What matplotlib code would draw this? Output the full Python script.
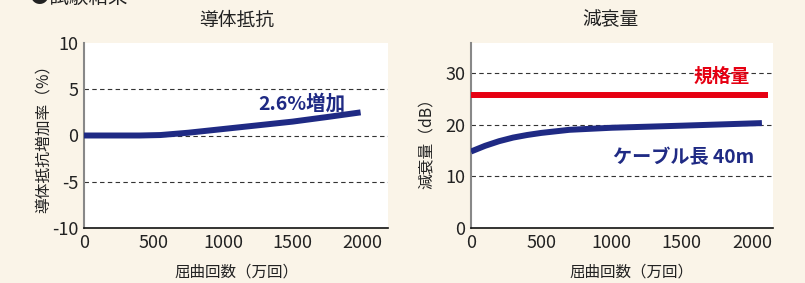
import numpy as np
import matplotlib.pyplot as plt

plt.rcParams['font.family'] = ['Noto Sans CJK JP', 'DejaVu Sans']
plt.rcParams['axes.unicode_minus'] = False

# 導体抵抗
res_x = [0, 200, 400, 550, 750, 1000, 1250, 1500, 1750, 1990]
res_y = [0, 0, 0, 0.05, 0.3, 0.7, 1.1, 1.5, 2.0, 2.5]
res_yticks = [-10, -5, 0, 5, 10]

# 減衰量
att_x = [0, 100, 200, 300, 400, 500, 700, 1000, 1500, 2070]
att_y = [14.8, 15.9, 16.8, 17.5, 18.0, 18.4, 19.0, 19.4, 19.8, 20.3]
spec_x = [0, 2110]
spec_y = [25.8, 25.8]
att_yticks = [0, 10, 20, 30]

xticks = [0, 500, 1000, 1500, 2000]

bg = "#FAF4E8"
navy = "#1F2A84"
red = "#E60012"

fig = plt.figure(figsize=(8.05, 2.83), dpi=100, facecolor=bg)
ax1 = fig.add_axes([84 / 805, 1 - 228 / 283, 304 / 805, 185 / 283])
ax2 = fig.add_axes([471 / 805, 1 - 228 / 283, 302 / 805, 185 / 283])


def style(ax, yticks, ylim, xmax):
    ax.set_facecolor("white")
    ax.set_xlim(0, xmax)
    ax.set_ylim(*ylim)
    ax.set_xticks(xticks)
    ax.set_yticks(yticks)
    ax.tick_params(length=0, labelsize=13, colors="#222222", pad=4)
    for s in ["top", "right"]:
        ax.spines[s].set_visible(False)
    ax.spines["left"].set_color("#888888")
    ax.spines["left"].set_linewidth(1.5)
    ax.spines["bottom"].set_color("#111111")
    ax.spines["bottom"].set_linewidth(1.2)
    for v in yticks:
        if ylim[0] < v < ylim[1]:
            ax.axhline(v, color="#333333", lw=0.8, ls=(0, (4, 3)), zorder=1)
    ax.set_xlabel("屈曲回数（万回）", fontsize=11.2, color="#222222", va="center")


style(ax1, res_yticks, (-10, 10), 2187)
ax1.plot(res_x, res_y, color=navy, lw=4.3, solid_capstyle="butt", zorder=3)
ax1.text(1568, 3.4, "2.6%増加", color=navy, fontsize=14, fontweight="bold",
         ha="center", va="center")
ax1.set_ylabel("導体抵抗増加率（%）", fontsize=11.3, color="#222222", va="center")
ax1.yaxis.set_label_coords(-0.135, 0.505)
ax1.xaxis.set_label_coords(0.503, -0.238)

style(ax2, att_yticks, (0, 35.8), 2149)
ax2.plot(spec_x, spec_y, color=red, lw=4.3, solid_capstyle="butt", zorder=3)
ax2.plot(att_x, att_y, color=navy, lw=4.3, solid_capstyle="butt", zorder=3)
ax2.text(1786, 29.3, "規格量", color=red, fontsize=13.5, fontweight="bold",
         ha="center", va="center")
ax2.text(1510, 13.7, "ケーブル長 40m", color=navy, fontsize=13.8, fontweight="bold",
         ha="center", va="center")
ax2.set_ylabel("減衰量（dB）", fontsize=11.3, color="#222222", va="center")
ax2.yaxis.set_label_coords(-0.146, 0.478)
ax2.xaxis.set_label_coords(0.53, -0.238)

fig.text(237 / 805, 1 - 20 / 283, "導体抵抗", fontsize=13.5, color="#222222",
         ha="center", va="center")
fig.text(610 / 805, 1 - 20 / 283, "減衰量", fontsize=13.5, color="#222222",
         ha="center", va="center")
fig.text(30 / 805, 0.99, "●試験結果", fontsize=14, color="#222222",
         ha="left", va="baseline")

fig.savefig("out.png", dpi=100, facecolor=bg)
